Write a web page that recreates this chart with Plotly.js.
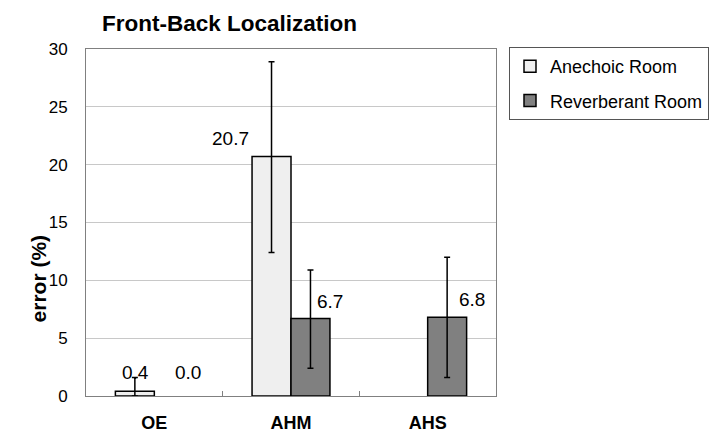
<!DOCTYPE html>
<html>
<head>
<meta charset="utf-8">
<script src="https://cdn.plot.ly/plotly-3.0.1.min.js"></script>
<style>html,body{margin:0;padding:0;background:#fff;}#chart{width:716px;height:433px;}</style>
</head>
<body>
<div id="chart"></div>
<script>
// ---- data ----
const categories = ["OE", "AHM", "AHS"];
const seriesNames = ["Anechoic Room", "Reverberant Room"];
const anechoic = [0.4, 20.7, 0];
const reverberant = [0.0, 6.7, 6.8];
const anechoicErrPlus = [1.2, 8.2, null];
const anechoicErrMinus = [0.4, 8.3, null];
const reverberantErrPlus = [null, 4.2, 5.2];
const reverberantErrMinus = [null, 4.3, 5.2];
const anechoicLabelShown = [true, true, false];
const reverberantLabelShown = [true, true, true];

// label offsets (pixels) relative to category centre / value
const anechoicLabelShift = [[-19, 19], [-61, 18], [0, 0]];
const reverberantLabelShift = [[34, 24], [39, 17], [44, 18]];

const FONT = "Liberation Sans, Arial, sans-serif";
// zero-height bars are not drawn in the reference
const drawn = vals => vals.map(v => (v === 0 ? null : v));

const traces = [
  {
    type: "bar", name: seriesNames[0], x: categories, y: drawn(anechoic),
    marker: {color: "#efefef", line: {color: "#000", width: 1.5}},
    error_y: {type: "data", symmetric: false, array: anechoicErrPlus, arrayminus: anechoicErrMinus,
              color: "#000", thickness: 1.5, width: 3},
    legendgroup: "a", hoverinfo: "skip"
  },
  {
    type: "bar", name: seriesNames[1], x: categories, y: drawn(reverberant),
    marker: {color: "#808080", line: {color: "#000", width: 1.5}},
    error_y: {type: "data", symmetric: false, array: reverberantErrPlus, arrayminus: reverberantErrMinus,
              color: "#000", thickness: 1.5, width: 3},
    legendgroup: "b", hoverinfo: "skip"
  }
];

const annotations = [];
function addLabels(vals, shown, shifts) {
  vals.forEach((v, i) => {
    if (!shown[i]) return;
    annotations.push({
      xref: "x", yref: "y", x: categories[i], y: v,
      text: v.toFixed(1), showarrow: false,
      xshift: shifts[i][0], yshift: shifts[i][1],
      font: {family: FONT, size: 19, color: "#000"}
    });
  });
}
addLabels(anechoic, anechoicLabelShown, anechoicLabelShift);
addLabels(reverberant, reverberantLabelShown, reverberantLabelShift);

annotations.push({
  xref: "paper", yref: "paper", x: -0.149, y: 0.34,
  text: "<b>error (%)</b>", textangle: -90, showarrow: false,
  font: {family: FONT, size: 21, color: "#000"}
});

const layout = {
  width: 716, height: 433,
  margin: {l: 86, r: 220, t: 49, b: 37, autoexpand: false},
  paper_bgcolor: "#fff", plot_bgcolor: "#fff",
  font: {family: FONT, color: "#000"},
  title: {
    text: "<b>Front-Back Localization</b>",
    font: {family: FONT, size: 22.5, color: "#000"},
    x: 102 / 716, xref: "container", xanchor: "left",
    y: 1 - 23 / 433, yref: "container", yanchor: "middle"
  },
  barmode: "group", bargap: 0.43, bargroupgap: 0,
  xaxis: {
    type: "category",
    showline: true, linecolor: "#808080", linewidth: 1, mirror: true,
    ticks: "inside", tickson: "boundaries", ticklen: 5, tickcolor: "#808080",
    tickfont: {family: FONT, size: 18, color: "#000", weight: "bold"},
    ticklabelstandoff: 10,
    showgrid: false, zeroline: false, fixedrange: true
  },
  yaxis: {
    range: [0, 30], dtick: 5, tick0: 0,
    showline: true, linecolor: "#808080", linewidth: 1, mirror: true,
    ticks: "", ticklabelstandoff: 14,
    tickfont: {family: FONT, size: 17, color: "#000"},
    showgrid: true, gridcolor: "#c8c8c8", gridwidth: 1,
    zeroline: false, fixedrange: true
  },
  showlegend: true,
  legend: {
    x: (509 - 86) / 410, xanchor: "left",
    y: (396 - 47) / 347, yanchor: "top",
    bordercolor: "#555", borderwidth: 1, bgcolor: "#fff",
    font: {family: FONT, size: 18, color: "#000"},
    traceorder: "grouped", tracegroupgap: 8,
    itemwidth: 30
  },
  annotations: annotations
};

Plotly.newPlot("chart", traces, layout, {displayModeBar: false, staticPlot: true});
</script>
</body>
</html>
